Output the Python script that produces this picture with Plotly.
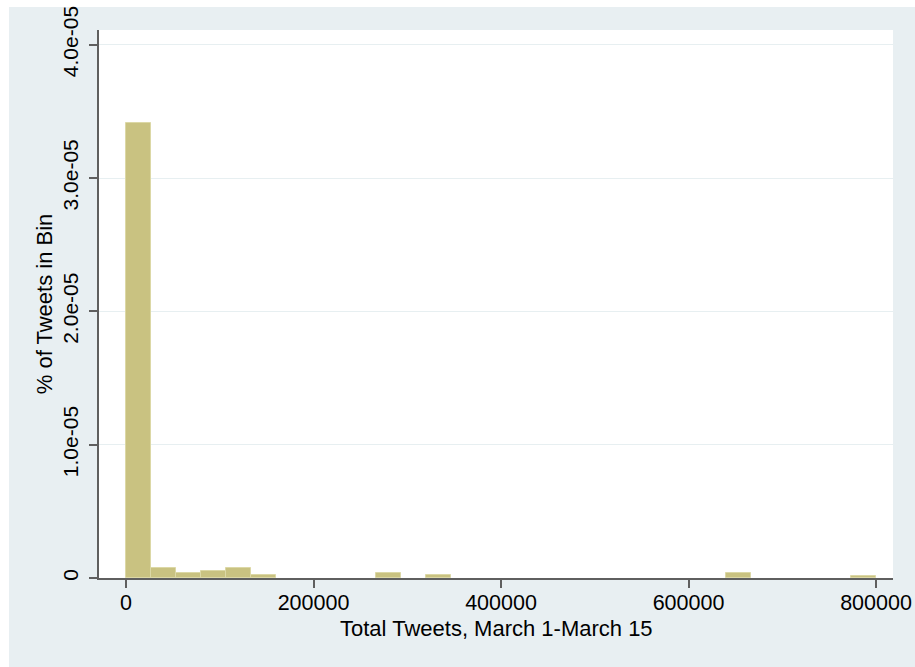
import plotly.graph_objects as go

# Histogram of total tweets per account, 30 equal-width bins starting at 0
bin_start = 0
bin_width = 800000 / 30
density = [
    3.415e-05, 7.3e-07, 3.7e-07, 5.2e-07, 7.4e-07, 2.2e-07,
    0, 0, 0, 0, 3.7e-07, 0, 2.0e-07, 0, 0,
    0, 0, 0, 0, 0, 0, 0, 0, 0, 3.9e-07,
    0, 0, 0, 0, 1.2e-07,
]

x_ticks = [0, 200000, 400000, 600000, 800000]
x_tick_text = ["0", "200000", "400000", "600000", "800000"]
y_ticks = [0, 1e-05, 2e-05, 3e-05, 4e-05]
y_tick_text = ["0", "1.0e-05", "2.0e-05", "3.0e-05", "4.0e-05"]

x_title = "Total Tweets, March 1-March 15"
y_title = "% of Tweets in Bin"

# only bins with observations get a bar
centers = [bin_start + (i + 0.5) * bin_width for i, d in enumerate(density) if d > 0]
heights = [d for d in density if d > 0]

FONT = "Liberation Sans, Arial, Helvetica, sans-serif"
BG = "#e8eff2"
AXIS = "#5f5f5f"

fig = go.Figure(
    go.Bar(
        x=centers,
        y=heights,
        width=bin_width,
        marker=dict(color="#c9c281", line=dict(color="#dcd8a6", width=1)),
    )
)

# plot-area geometry in pixels (used for the frame decorations)
W, H = 915, 667
L, R, T, B = 99, 22, 30, 89
pw, ph = W - L - R, H - T - B

fig.update_layout(
    width=W,
    height=H,
    margin=dict(l=L, r=R, t=T, b=B, pad=0, autoexpand=False),
    paper_bgcolor=BG,
    plot_bgcolor="white",
    bargap=0,
    showlegend=False,
    font=dict(family=FONT, size=21, color="black"),
    xaxis=dict(
        range=[-28800, 818133],
        tickvals=x_ticks,
        ticktext=x_tick_text,
        tickfont=dict(size=21.5),
        automargin=False,
        showgrid=False,
        zeroline=False,
        showline=True,
        linecolor=AXIS,
        linewidth=1.5,
        ticks="outside",
        ticklen=8,
        tickwidth=1.5,
        tickcolor=AXIS,
        ticklabelstandoff=-4,
    ),
    yaxis=dict(
        range=[0, 4.11e-05],
        tickvals=y_ticks,
        ticktext=y_tick_text,
        tickfont=dict(size=21),
        tickangle=-90,
        automargin=False,
        showgrid=True,
        gridcolor="#e7eff1",
        gridwidth=1,
        zeroline=False,
        showline=True,
        linecolor=AXIS,
        linewidth=1.5,
        ticks="outside",
        ticklen=8,
        tickwidth=1.5,
        tickcolor=AXIS,
        ticklabelstandoff=3,
        title=dict(text=y_title, standoff=0, font=dict(size=22)),
    ),
    annotations=[
        dict(text=x_title, xref="paper", yref="paper", x=0.5, y=-50 / ph,
             xanchor="center", yanchor="middle", showarrow=False,
             font=dict(size=22)),
    ],
    shapes=[
        # white strips along the left and top edges of the page
        dict(type="rect", xref="paper", yref="paper",
             x0=-L / pw, x1=-(L - 9) / pw, y0=-B / ph, y1=(H - B) / ph,
             fillcolor="white", line=dict(width=0), layer="below"),
        dict(type="rect", xref="paper", yref="paper",
             x0=-L / pw, x1=(W - L) / pw, y0=(H - B - 7) / ph, y1=(H - B) / ph,
             fillcolor="white", line=dict(width=0), layer="below"),
        # x axis line runs a little past the y axis
        dict(type="line", xref="paper", yref="paper",
             x0=-9 / pw, x1=0, y0=0, y1=0,
             line=dict(color=AXIS, width=1.5), layer="above"),
    ],
)

fig.write_html("out.html")
